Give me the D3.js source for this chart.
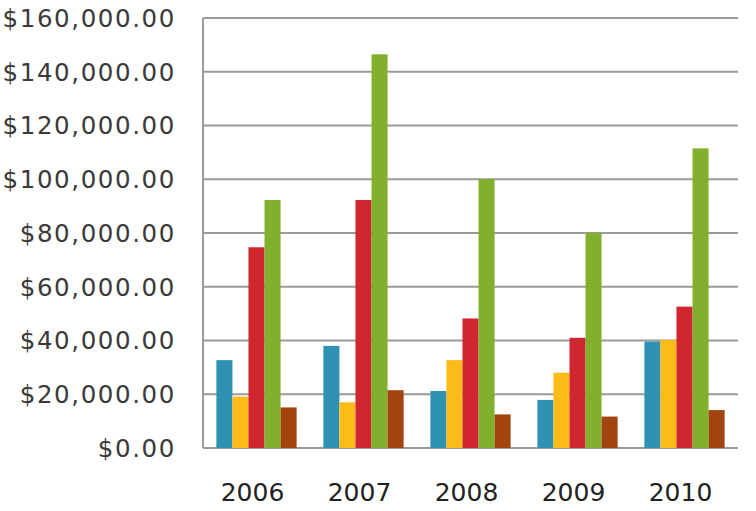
<!DOCTYPE html>
<html><head><meta charset="utf-8">
<script src="https://cdn.jsdelivr.net/npm/d3@7"></script>
<style>body{margin:0;background:#fff}svg{display:block}</style>
</head><body>
<svg id="c" width="756" height="511"></svg>
<script>
const years = ["2006","2007","2008","2009","2010"];
const seriesNames = ["S1","S2","S3","S4","S5"];
const s1 = [32700, 38000, 21200, 17900, 39600];
const s2 = [19100, 17000, 32700, 28000, 40200];
const s3 = [74700, 92300, 48200, 41000, 52600];
const s4 = [92300, 146500, 100000, 80100, 111500];
const s5 = [15100, 21500, 12500, 11700, 14100];
const yTicks = [0,20000,40000,60000,80000,100000,120000,140000,160000];
const colors = ["#2f92b3","#fdbb1a","#d0262f","#80b02c","#a2440f"];

const allSeries = [s1,s2,s3,s4,s5];
const svg = d3.select("#c");
const pL = 203, pR = 738, pT = 18, pB = 448;
const x = d3.scaleBand().domain(years).range([pL,pR]).paddingInner(0.25).paddingOuter(0.125);
const xi = d3.scaleBand().domain(seriesNames).range([0,x.bandwidth()]);
const y = d3.scaleLinear().domain([0,160000]).range([pB,pT]);

// gridlines
svg.append("g").selectAll("line").data(yTicks).join("line")
  .attr("x1",pL).attr("x2",pR)
  .attr("y1",d=>y(d)).attr("y2",d=>y(d))
  .attr("stroke","#9a9a9a").attr("stroke-width",2);
// vertical axis
svg.append("line").attr("x1",pL).attr("x2",pL).attr("y1",pT).attr("y2",pB)
  .attr("stroke","#9a9a9a").attr("stroke-width",2);

// bars
const g = svg.append("g");
years.forEach((yr,i)=>{
  allSeries.forEach((s,j)=>{
    g.append("rect")
      .attr("x", x(yr)+xi(seriesNames[j]))
      .attr("width", xi.bandwidth())
      .attr("y", y(s[i]))
      .attr("height", y(0)-y(s[i]))
      .attr("fill", colors[j]);
  });
});

// axes labels
const fmt = d3.format("$,.2f");
svg.append("g").selectAll("text").data(yTicks).join("text")
  .attr("x",176).attr("y",d=>y(d)).attr("dy","0.36em")
  .attr("text-anchor","end")
  .attr("letter-spacing","1.6px")
  .attr("font-family","DejaVu Sans, sans-serif").attr("font-size",24.5)
  .attr("fill","#3a3a3a")
  .text(d=>fmt(d));
svg.append("g").selectAll("text").data(years).join("text")
  .attr("x",d=>x(d)+x.bandwidth()/2 - 4).attr("y",492).attr("dy","0.36em")
  .attr("text-anchor","middle")
  .attr("font-family","DejaVu Sans, sans-serif").attr("font-size",25)
  .attr("fill","#222")
  .text(d=>d);
</script>
</body></html>
